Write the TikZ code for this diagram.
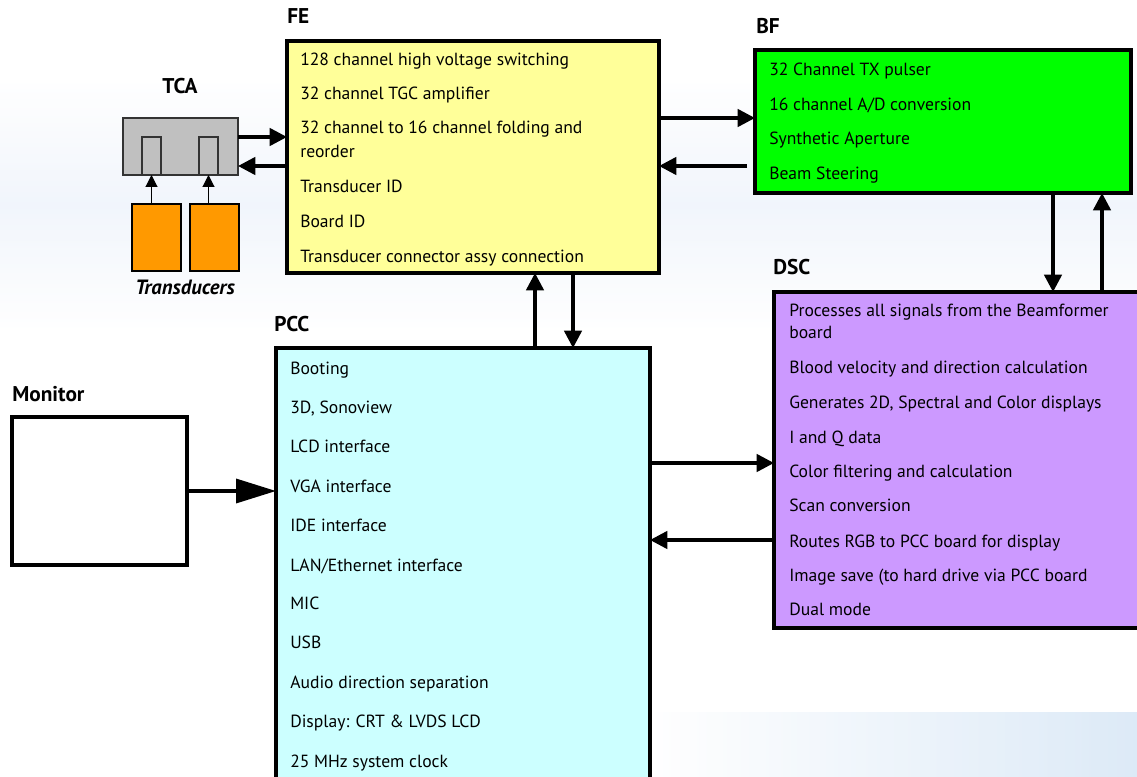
\documentclass[tikz,border=0pt]{standalone}
\usepackage{fontspec}
\setmainfont{PT Sans}
\usetikzlibrary{arrows.meta, positioning, calc}
\definecolor{fefill}{HTML}{FFFF99}
\definecolor{bffill}{HTML}{00FF00}
\definecolor{dscfill}{HTML}{CC99FF}
\definecolor{pccfill}{HTML}{CCFFFF}
\definecolor{tcafill}{HTML}{C0C0C0}
\definecolor{xdcrfill}{HTML}{FF9900}
\definecolor{wmark}{HTML}{E8EFFA}
\definecolor{wmarkdk}{HTML}{C6DCF2}
\tikzset{
  board/.style  = {rectangle, draw=black, line width=2.8pt, anchor=north west,
                   inner sep=0pt, outer sep=0pt},
  part/.style   = {rectangle, draw=black!80, line width=0.8pt, anchor=north west,
                   inner sep=0pt, outer sep=0pt},
  item/.style   = {anchor=base west, font=\fontsize{13.2}{15}\selectfont, inner sep=0pt},
  ttl/.style    = {anchor=base west, font=\fontsize{16}{18}\selectfont\bfseries, inner sep=0pt},
  flow/.style   = {-{Triangle[length=13pt,width=13pt]}, line width=2.6pt},
  bigflow/.style= {-{Triangle[length=30pt,width=18pt]}, line width=2.6pt},
  probe/.style  = {-{Triangle[length=9pt,width=9pt]}, line width=0.8pt},
}

\begin{document}
\begin{tikzpicture}[x=0.75pt, y=-0.75pt]
  \clip (0,0) rectangle (1137,777);
  \fill[white] (0,0) rectangle (1137,777);
  % faint watermark
  \shade[top color=white, bottom color=white, middle color=wmark, opacity=.6] (0,80) rectangle (1137,330);
  \shade[left color=white, right color=wmarkdk, opacity=.6] (650,712) rectangle (1137,777);

  % boards
  \node[board, fill=fefill, minimum width=279pt, minimum height=174pt] (fe) at (287,41) {};
  \node[board, fill=bffill, minimum width=282pt, minimum height=107.25pt] (bf) at (755,50) {};
  \node[board, fill=dscfill, minimum width=276pt, minimum height=252pt] (dsc) at (774,292) {};
  \node[board, fill=pccfill, minimum width=280.5pt, minimum height=331.5pt] (pcc) at (276,348) {};
  \node[board, fill=white, minimum width=131.25pt, minimum height=111pt] (mon) at (12,417) {};

  % transducer connector and probes
  \node[part, fill=tcafill, minimum width=86.25pt, minimum height=42.75pt] (tca) at (123,118) {};
  \node[part, fill=tcafill, minimum width=14.25pt, minimum height=28.5pt] (slot1) at (142,137) {};
  \node[part, fill=tcafill, minimum width=14.25pt, minimum height=28.5pt] (slot2) at (199,137) {};
  \node[part, draw=black, fill=xdcrfill, minimum width=36.75pt, minimum height=50.25pt] (xd1) at (132,204) {};
  \node[part, draw=black, fill=xdcrfill, minimum width=36.75pt, minimum height=50.25pt] (xd2) at (190,204) {};

  % titles
  \node[ttl] (fettl) at (287,24) {FE};
  \node[ttl] (bfttl) at (756,34) {BF};
  \node[ttl] (dscttl) at (773,274) {DSC};
  \node[ttl] (pccttl) at (274,331) {PCC};
  \node[ttl] (monttl) at (12,401) {Monitor};
  \node[ttl, anchor=base] (tcattl) at (180,94) {TCA};
  \node[ttl, anchor=base, font=\fontsize{15.5}{17}\selectfont\bfseries\itshape] (xdttl) at (185,294) {Transducers};

  % board contents
  \foreach \y/\t [count=\i] in {
      66/{128 channel high voltage switching},
      100/{32 channel TGC amplifier},
      134/{32 channel to 16 channel folding and},
      158/{reorder},
      193/{Transducer ID},
      228/{Board ID},
      262/{Transducer connector assy connection}}{
    \node[item] (fe\i) at (300,\y) {\t};
  }
  \foreach \y/\t [count=\i] in {
      76/{32 Channel TX pulser},
      111/{16 channel A/D conversion},
      145/{Synthetic Aperture},
      180/{Beam Steering}}{
    \node[item] (bf\i) at (769,\y) {\t};
  }
  \foreach \y/\t [count=\i] in {
      316/{Processes all signals from the Beamformer},
      338/{board},
      373/{Blood velocity and direction calculation},
      408/{Generates 2D, Spectral and Color displays},
      443/{I and Q data},
      477/{Color filtering and calculation},
      511/{Scan conversion},
      547/{Routes RGB to PCC board for display},
      581/{Image save (to hard drive via PCC board},
      615/{Dual mode}}{
    \node[item] (dsc\i) at (789,\y) {\t};
  }
  \foreach \y/\t [count=\i] in {
      374/{Booting},
      413/{3D, Sonoview},
      452/{LCD interface},
      492/{VGA interface},
      531/{IDE interface},
      571/{LAN/Ethernet interface},
      609/{MIC},
      648/{USB},
      688/{Audio direction separation},
      727/{Display: CRT \& LVDS LCD},
      767/{25 MHz system clock}}{
    \node[item] (pcc\i) at (290,\y) {\t};
  }

  % connections
  \draw[probe] (slot1.south |- xd1.north) -- (slot1.south);
  \draw[probe] (slot2.south |- xd2.north) -- (slot2.south);
  \coordinate (tcaout) at ($(tca.north east)+(0,19)$);
  \coordinate (tcain) at ($(tca.north east)+(0,48)$);
  \draw[flow] (tcaout) -- (tcaout -| fe.west);
  \draw[flow] (tcain -| fe.west) -- (tcain);
  \coordinate (fetx) at ($(fe.north east)+(0,77)$);
  \coordinate (bfrx) at ($(bf.north west)+(-8,116)$);
  \draw[flow] (fetx) -- (fetx -| bf.west);
  \draw[flow] (bfrx) -- (bfrx -| fe.east);
  \coordinate (pccup) at ($(pcc.north west)+(259,0)$);
  \coordinate (fedn) at ($(fe.south west)+(286,0)$);
  \draw[flow] (pccup) -- (pccup |- fe.south);
  \draw[flow] (fedn) -- (fedn |- pcc.north);
  \coordinate (bfdn) at ($(bf.south west)+(298,0)$);
  \coordinate (dscup) at ($(dsc.north west)+(328,0)$);
  \draw[flow] (bfdn) -- (bfdn |- dsc.north);
  \draw[flow] (dscup) -- (dscup |- bf.south);
  \coordinate (pcctx) at ($(pcc.north east)+(0,115)$);
  \coordinate (dscrx) at ($(dsc.north west)+(0,248)$);
  \draw[flow] (pcctx) -- (pcctx -| dsc.west);
  \draw[flow] (dscrx) -- (dscrx -| pcc.east);
  \draw[bigflow] (mon.east) -- (mon.east -| pcc.west);
\end{tikzpicture}
\end{document}
